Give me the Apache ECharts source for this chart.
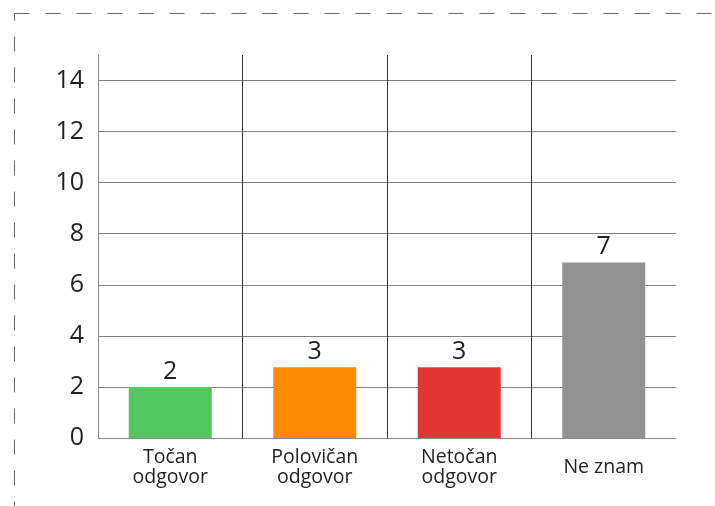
<!DOCTYPE html>
<html>
<head>
<meta charset="utf-8">
<script src="https://cdn.jsdelivr.net/npm/echarts@6/dist/echarts.min.js"></script>
<style>
html,body{margin:0;padding:0;background:#fff;}
#chart{width:715px;height:506px;}
</style>
</head>
<body>
<div id="chart"></div>
<script>
var categories = ['Točan\nodgovor', 'Polovičan\nodgovor', 'Netočan\nodgovor', 'Ne znam'];
var values = [2, 2.77, 2.77, 6.87];
var valueLabels = ['2', '3', '3', '7'];
var barColors = ['#55c55d', '#ff8b00', '#e33535', '#929292'];

var chart = echarts.init(document.getElementById('chart'));
var font = '"Open Sans", "Noto Sans", sans-serif';
chart.setOption({
  animation: false,
  backgroundColor: '#fff',
  graphic: [{
    type: 'rect',
    left: 12, top: 11,
    shape: {x: 0, y: 0, width: 900, height: 700},
    style: {fill: 'none', stroke: '#666', lineWidth: 1, lineDash: [15, 16]},
    silent: true,
    z: -1
  }],
  grid: {left: 98, right: 39, top: 55, bottom: 68, containLabel: false},
  xAxis: {
    type: 'category',
    data: categories,
    axisLine: {show: true, lineStyle: {color: '#888', width: 1}},
    axisTick: {show: false},
    splitLine: {show: true, interval: 0, lineStyle: {color: ['rgba(0,0,0,0)', '#333', '#333', '#333', 'rgba(0,0,0,0)'], width: 1}},
    axisLabel: {interval: 0, margin: 29, verticalAlign: 'middle', fontFamily: font, fontSize: 19.5, lineHeight: 20, color: '#222'}
  },
  yAxis: {
    type: 'value',
    min: 0, max: 15, interval: 2,
    axisLine: {show: true, lineStyle: {color: '#888', width: 1}},
    axisTick: {show: false},
    splitLine: {show: true, lineStyle: {color: ['#808080', '#808080', '#808080', '#808080', '#808080', '#808080', '#808080', '#808080', 'rgba(0,0,0,0)'], width: 1}},
    axisLabel: {showMaxLabel: false, margin: 14, fontFamily: font, fontSize: 25, color: '#222'}
  },
  series: [{
    type: 'bar',
    data: values.map(function (v, i) { return {value: v, itemStyle: {color: barColors[i]}}; }),
    barWidth: 83,
    label: {
      show: true, position: 'top', distance: 3,
      fontFamily: font, fontSize: 25, color: '#222',
      formatter: function (p) { return valueLabels[p.dataIndex]; }
    }
  }]
});
</script>
</body>
</html>
